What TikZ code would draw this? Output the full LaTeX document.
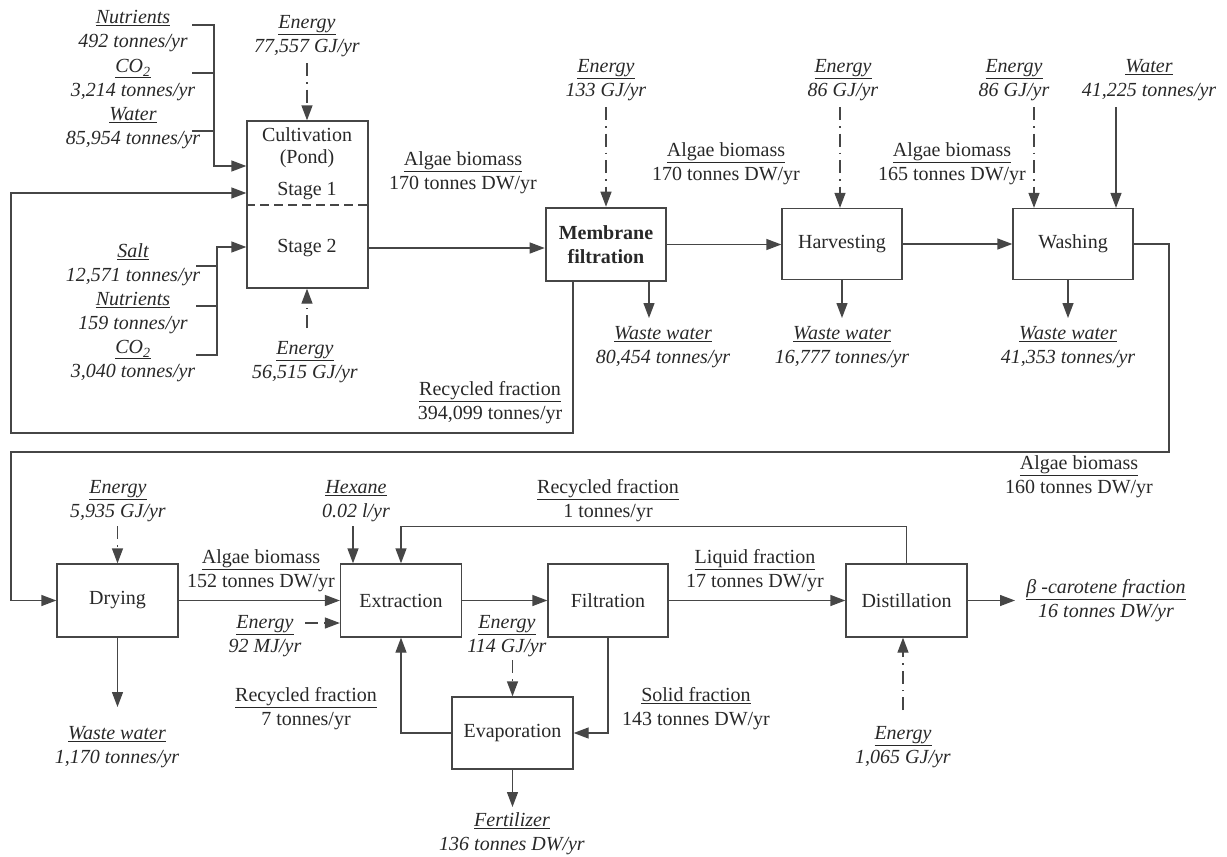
\documentclass[tikz,border=0pt]{standalone}
\usepackage{fontspec}
\setmainfont{Liberation Serif}
\usetikzlibrary{arrows.meta}
\definecolor{ink}{RGB}{70,70,70}
\definecolor{txt}{RGB}{40,40,40}
\newcommand\flowlabel[2]{\underline{#1}\\#2}
\tikzset{
  unit box/.style={draw=ink, line width=1.3pt, minimum width=121pt, minimum height=73pt,
    inner sep=0pt, text=txt, font=\fontsize{20}{24}\selectfont},
  plain line/.style={draw=ink, line width=1.3pt},
  flow/.style={plain line, -{Triangle[length=15pt,width=11pt]}},
  energy/.style={flow, dash pattern=on 13pt off 6pt on 1.5pt off 6pt},
  stream/.style={align=center, inner sep=0pt, text=txt, font=\fontsize{20}{24}\selectfont},
  inflow/.style={stream, font=\fontsize{20}{24}\selectfont\itshape},
  boxtext/.style={inner sep=0pt, text=txt, font=\fontsize{20}{24}\selectfont},
}
\begin{document}
\begin{tikzpicture}[x=1pt,y=-1pt]
\useasboundingbox (0,0) rectangle (1227,857);

% ---------- process units ----------
\node[unit box, minimum height=167pt] (cult) at (307.5,204.5) {};
\node[boxtext] (cultA) at (307,135) {Cultivation};
\node[boxtext] (cultB) at (307,159) {(Pond)};
\node[boxtext] (cultC) at (307,191) {Stage 1};
\node[boxtext] (cultD) at (307,248) {Stage 2};
\draw[plain line, dash pattern=on 9pt off 5pt] (cult.west |- 0,205) -- (cult.east |- 0,205);

\node[unit box, line width=2.6pt, minimum width=120pt, align=center,
      font=\fontsize{20}{24}\selectfont\bfseries] (memb) at (606,244.5) {Membrane\\filtration};
\node[unit box, minimum width=120pt, minimum height=71pt] (harv) at (842,244) {Harvesting};
\node[unit box, minimum width=120pt, minimum height=71pt] (wash) at (1073,244) {Washing};

\node[unit box] (dry)  at (117.5,600.5) {Drying};
\node[unit box] (ext)  at (401,600.5) {Extraction};
\node[unit box, minimum width=120pt] (filt) at (608,600.5) {Filtration};
\node[unit box, minimum height=72pt] (evap) at (512.5,733) {Evaporation};
\node[unit box] (dist) at (906.5,600.5) {Distillation};

% ---------- stream labels ----------
\node[inflow] (nutr1) at (133,31.5)  {\flowlabel{Nutrients}{492 tonnes/yr}};
\node[inflow] (co21)  at (133,80.5)  {\flowlabel{CO\textsubscript{2}}{3,214 tonnes/yr}};
\node[inflow] (wat1)  at (133,128)   {\flowlabel{Water}{85,954 tonnes/yr}};
\node[inflow] (ecT)   at (307,36)    {\flowlabel{Energy}{77,557 GJ/yr}};
\node[inflow] (ecB)   at (305,362)   {\flowlabel{Energy}{56,515 GJ/yr}};
\node[inflow] (salt)  at (133,265)   {\flowlabel{Salt}{12,571 tonnes/yr}};
\node[inflow] (nutr2) at (133,313.5) {\flowlabel{Nutrients}{159 tonnes/yr}};
\node[inflow] (co22)  at (133,361.5) {\flowlabel{CO\textsubscript{2}}{3,040 tonnes/yr}};

\node[stream] (ab1) at (463,173)  {\flowlabel{Algae biomass}{170 tonnes DW/yr}};
\node[inflow] (em)  at (606,80)   {\flowlabel{Energy}{133 GJ/yr}};
\node[stream] (ab2) at (726,163.5){\flowlabel{Algae biomass}{170 tonnes DW/yr}};
\node[inflow] (eh)  at (843,80)   {\flowlabel{Energy}{86 GJ/yr}};
\node[stream] (ab3) at (952,163.5){\flowlabel{Algae biomass}{165 tonnes DW/yr}};
\node[inflow] (ew)  at (1014,80)  {\flowlabel{Energy}{86 GJ/yr}};
\node[inflow] (wat2) at (1149,80) {\flowlabel{Water}{41,225 tonnes/yr}};

\node[inflow] (ww1) at (663,347)  {\flowlabel{Waste water}{80,454 tonnes/yr}};
\node[inflow] (ww2) at (842,347)  {\flowlabel{Waste water}{16,777 tonnes/yr}};
\node[inflow] (ww3) at (1068,347) {\flowlabel{Waste water}{41,353 tonnes/yr}};
\node[stream] (rf1) at (490,402.5){\flowlabel{Recycled fraction}{394,099 tonnes/yr}};
\node[stream] (ab4) at (1079,477) {\flowlabel{Algae biomass}{160 tonnes DW/yr}};

\node[inflow] (ed)   at (118,501.5) {\flowlabel{Energy}{5,935 GJ/yr}};
\node[inflow] (hex)  at (356,501.5) {\flowlabel{Hexane}{0.02 l/yr}};
\node[stream] (rf2)  at (608,501)   {\flowlabel{Recycled fraction}{1 tonnes/yr}};
\node[stream] (ab5)  at (261,571)   {\flowlabel{Algae biomass}{152 tonnes DW/yr}};
\node[inflow] (ee)   at (265,636)   {\flowlabel{Energy}{92 MJ/yr}};
\node[inflow] (wwd)  at (117,747.5) {\flowlabel{Waste water}{1,170 tonnes/yr}};
\node[stream] (rf3)  at (306,708.5) {\flowlabel{Recycled fraction}{7 tonnes/yr}};
\node[inflow] (e114) at (507,636)   {\flowlabel{Energy}{114 GJ/yr}};
\node[stream] (lf)   at (755,571)   {\flowlabel{Liquid fraction}{17 tonnes DW/yr}};
\node[stream] (sf)   at (696,708.5) {\flowlabel{Solid fraction}{143 tonnes DW/yr}};
\node[inflow] (fert) at (512,834)   {\flowlabel{Fertilizer}{136 tonnes DW/yr}};
\node[inflow] (beta) at (1106,600.5){\flowlabel{β -carotene fraction}{16 tonnes DW/yr}};
\node[inflow] (edist) at (903,747)  {\flowlabel{Energy}{1,065 GJ/yr}};

% ---------- feeds to cultivation ----------
\coordinate (nutA) at (192,25);
\coordinate (co2A) at (192,73);
\coordinate (watA) at (192,131);
\coordinate (busA) at (214,166);
\draw[flow] (nutA) -| (busA) -- (busA -| cult.west);
\draw[plain line] (co2A) -- (co2A -| busA);
\draw[plain line] (watA) -- (watA -| busA);

\coordinate (saltA) at (196,266);
\coordinate (nutB)  at (196,306);
\coordinate (co2B)  at (196,355);
\coordinate (busB)  at (217,247);
\draw[flow] (co2B) -| (busB) -- (busB -| cult.west);
\draw[plain line] (saltA) -- (saltA -| busB);
\draw[plain line] (nutB) -- (nutB -| busB);

\coordinate (ecTs) at (307,63);
\draw[energy] (ecTs) -- (ecTs |- cult.north);
\coordinate (ecBs) at (307,328);
\draw[energy] (ecBs) -- (ecBs |- cult.south);

% ---------- upper line ----------
\draw[flow] (cult.east |- 0,248) -- (memb.west |- 0,248);
\coordinate (ems) at (606,107);
\draw[energy] (ems) -- (ems |- memb.north);
\draw[flow] (memb.east) -- (memb.east -| harv.west);
\coordinate (ehs) at (840,107);
\draw[energy] (ehs) -- (ehs |- harv.north);
\draw[flow] (harv.east) -- (harv.east -| wash.west);
\coordinate (ews) at (1034,107);
\draw[energy] (ews) -- (ews |- wash.north);
\coordinate (wats) at (1116,107);
\draw[flow] (wats) -- (wats |- wash.north);

\coordinate (ww1e) at (649,318);
\draw[flow] (ww1e |- memb.south) -- (ww1e);
\coordinate (ww2e) at (842,318);
\draw[flow] (ww2e |- harv.south) -- (ww2e);
\coordinate (ww3e) at (1068,318);
\draw[flow] (ww3e |- wash.south) -- (ww3e);

% recycle from membrane filtration back to stage 1
\coordinate (rcA) at (573,433);
\coordinate (rcB) at (11,433);
\coordinate (rcC) at (11,193);
\draw[flow] (rcA |- memb.south) -- (rcA) -- (rcB) -- (rcC) -- (rcC -| cult.west);

% washed biomass down to drying
\coordinate (wdA) at (1169,452);
\coordinate (wdB) at (11,452);
\draw[flow] (wash.east) -| (wdA) -- (wdB) |- (dry.west);

% ---------- lower line ----------
\coordinate (eds) at (117.5,526);
\draw[energy] (eds) -- (dry.north);
\coordinate (dwe) at (117.5,707);
\draw[flow] (dry.south) -- (dwe);
\draw[flow] (dry.east) -- (ext.west);
\coordinate (hexs) at (353,526);
\draw[flow] (hexs) -- (hexs |- ext.north);
\coordinate (ees) at (305,623);
\draw[energy] (ees) -- (ees -| ext.west);
\draw[flow] (ext.east) -- (filt.west);
\draw[flow] (filt.east) -- (dist.west);
\draw[flow] (dist.north) -- ++(0,-37) -| (ext.north);
\draw[flow] (filt.south) |- (evap.east);
\draw[flow] (evap.west) -| (ext.south);
\coordinate (e114s) at (512.5,660);
\draw[energy] (e114s) -- (evap.north);
\coordinate (fe) at (512.5,807);
\draw[flow] (evap.south) -- (fe);
\coordinate (be) at (1015,600.5);
\draw[flow] (dist.east) -- (be);
\coordinate (edists) at (903,710);
\draw[energy] (edists) -- (edists |- dist.south);
\end{tikzpicture}
\end{document}
